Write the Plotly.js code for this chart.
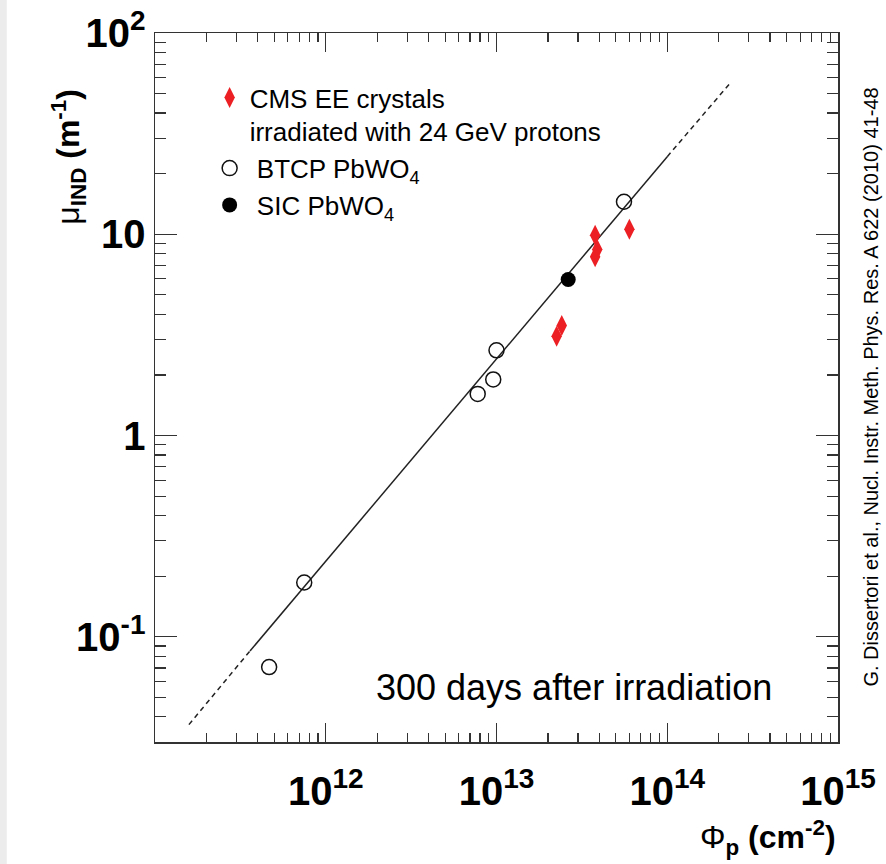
<!DOCTYPE html>
<html>
<head>
<meta charset="utf-8">
<script src="https://cdn.plot.ly/plotly-3.0.1.min.js"></script>
<style>html,body{margin:0;padding:0;background:#fff;}#chart{width:886px;height:864px;}</style>
</head>
<body>
<div id="chart"></div>
<script>
// CMS EE crystals irradiated with 24 GeV protons (red diamonds)
const cmsFluence = [3.78e13, 3.89e13, 3.78e13, 6.0e13, 2.41e13, 2.25e13];
const cmsMu      = [9.9, 8.4, 7.72, 10.6, 3.52, 3.11];
// BTCP PbWO4 (open circles)
const btcpFluence = [4.66e11, 7.48e11, 7.76e12, 9.57e12, 1.0e13, 5.58e13];
const btcpMu      = [0.0707, 0.186, 1.61, 1.90, 2.65, 14.5];
// SIC PbWO4 (filled circle)
const sicFluence = [2.63e13];
const sicMu      = [5.96];
// Fit line: solid part and dashed extrapolations
const fitSolidX = [3.6e11, 1.0e14];
const fitSolidY = [0.085, 24.3];
const fitDashLowX = [1.58e11, 3.6e11];
const fitDashLowY = [0.0366, 0.085];
const fitDashHighX = [1.0e14, 2.38e14];
const fitDashHighY = [24.3, 57.4];
// Tick labels
const xTickVals = [1e12, 1e13, 1e14, 1e15];
const xTickText = ['10<sup>12</sup>', '10<sup>13</sup>', '10<sup>14</sup>', '10<sup>15</sup>'];
const yTickVals = [0.1, 1, 10, 100];
const yTickText = ['10<sup>-1</sup>', '1', '10', '10<sup>2</sup>'];

const FONT = 'Liberation Sans, Arial, Helvetica, sans-serif';
const RED = 'rgb(236,32,36)';

const traces = [
  {x: fitDashLowX, y: fitDashLowY, mode: 'lines', showlegend: false, hoverinfo: 'skip',
   line: {color: '#222', width: 1.5, dash: '5px,4px'}},
  {x: fitSolidX, y: fitSolidY, mode: 'lines', showlegend: false, hoverinfo: 'skip',
   line: {color: '#222', width: 1.5}},
  {x: fitDashHighX, y: fitDashHighY, mode: 'lines', showlegend: false, hoverinfo: 'skip',
   line: {color: '#222', width: 1.5, dash: '5px,4px'}},
  {x: cmsFluence, y: cmsMu, mode: 'markers', name: 'CMS EE crystals<br>irradiated with 24 GeV protons',
   marker: {symbol: 'diamond-tall', size: 15, color: RED}},
  {x: btcpFluence, y: btcpMu, mode: 'markers', name: '\u00a0BTCP PbWO<sub>4</sub>',
   marker: {symbol: 'circle-open', size: 15, color: '#111', line: {width: 1.5, color: '#111'}}},
  {x: sicFluence, y: sicMu, mode: 'markers', name: '\u00a0SIC PbWO<sub>4</sub>',
   marker: {symbol: 'circle', size: 15, color: '#000'}}
];

const axisCommon = {
  type: 'log', showgrid: false, zeroline: false, showline: true, linecolor: '#333', linewidth: 1.5,
  ticks: 'inside', tickcolor: '#333', tickwidth: 1.3, mirror: 'allticks', tickmode: 'array',
  tickfont: {family: FONT, size: 40, color: '#000', weight: 'bold'}
};

const layout = {
  width: 886, height: 864,
  margin: {l: 155, r: 48, t: 33, b: 122},
  paper_bgcolor: '#fff', plot_bgcolor: '#fff',
  font: {family: FONT, color: '#000'},
  xaxis: Object.assign({}, axisCommon, {
    range: [11, 15], tickvals: xTickVals, ticktext: xTickText, ticklen: 19, ticklabelstandoff: 13,
    minor: {dtick: 'D1', ticks: 'inside', ticklen: 9, tickwidth: 1.2, tickcolor: '#333'}
  }),
  yaxis: Object.assign({}, axisCommon, {
    range: [Math.log10(0.03), 2], tickvals: yTickVals, ticktext: yTickText, ticklen: 22,
    minor: {dtick: 'D1', ticks: 'inside', ticklen: 11, tickwidth: 1.2, tickcolor: '#333'}
  }),
  showlegend: true,
  legend: {x: 0.08, y: 0.942, xanchor: 'left', yanchor: 'top', bgcolor: 'rgba(0,0,0,0)',
    font: {family: FONT, size: 26, color: '#000'}, valign: 'top', itemsizing: 'trace'},
  shapes: [
    {type: 'rect', xref: 'paper', yref: 'paper', x0: -0.227, x1: -0.217, y0: -0.2, y1: 1.05,
     fillcolor: '#ececec', line: {width: 0}, layer: 'below'}
  ],
  annotations: [
    {xref: 'paper', yref: 'paper', x: -0.127, y: 0.826, xanchor: 'center', yanchor: 'middle',
     textangle: -90, showarrow: false,
     text: '<span style="font-weight:normal">μ</span><sub>IND</sub> (m<sup>-1</sup>)',
     font: {family: FONT, size: 32, weight: 'bold', color: '#000'}},
    {xref: 'paper', yref: 'paper', x: 1.0, y: -0.135, xanchor: 'right', yanchor: 'middle',
     showarrow: false,
     text: '<span style="font-weight:normal">Φ</span><sub>p</sub> (cm<sup>-2</sup>)',
     font: {family: FONT, size: 32, weight: 'bold', color: '#000'}},
    {xref: 'paper', yref: 'paper', x: 0.321, y: 0.0762, xanchor: 'left', yanchor: 'middle',
     showarrow: false, text: '300 days after irradiation',
     font: {family: FONT, size: 36, color: '#000'}},
    {xref: 'paper', yref: 'paper', x: 1.047, y: 0.5, xanchor: 'center', yanchor: 'middle',
     textangle: -90, showarrow: false,
     text: 'G. Dissertori et al., Nucl. Instr. Meth. Phys. Res. A 622 (2010) 41-48',
     font: {family: FONT, size: 20, color: '#000'}}
  ]
};

Plotly.newPlot('chart', traces, layout, {displayModeBar: false, staticPlot: true});
</script>
</body>
</html>
